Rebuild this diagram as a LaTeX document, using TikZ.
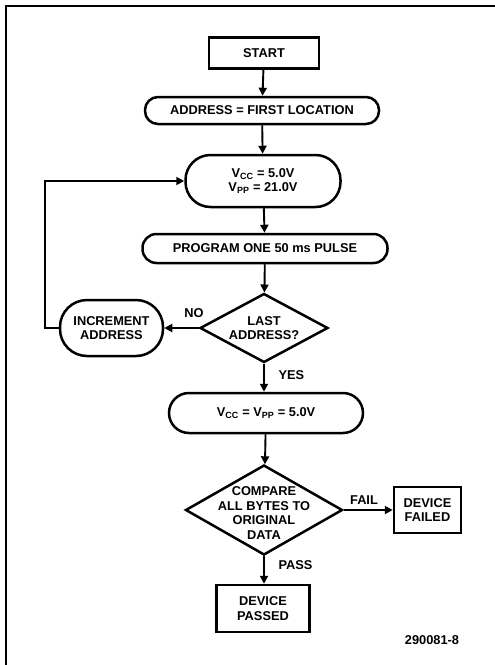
\documentclass[tikz,border=0pt]{standalone}
\usepackage{fontspec}
\setmainfont{Liberation Sans}
\usetikzlibrary{shapes.geometric,arrows.meta}
\tikzset{
    flow/.style={line width=1.9pt,-{Triangle[length=8pt,width=8pt]}},
    box/.style={draw,line width=2.5pt,rectangle,inner sep=0pt,align=center},
    pill/.style={draw,line width=2.5pt,rectangle,rounded corners=#1,inner sep=0pt,align=center},
    decision/.style={draw,line width=2.5pt,diamond,inner sep=0pt},
    txt/.style={align=center},
}
\begin{document}
\begin{tikzpicture}[x=1pt,y=-1pt,font=\bfseries\fontsize{12.8}{14.6}\selectfont]
    \useasboundingbox (0,0) rectangle (495,665);

    % Frame
    \draw[line width=1.5pt] (6,670) -- (6,6) -- (500,6);

    % Main column
    \node[box,minimum width=110pt,minimum height=31pt] (start) at (264,53) {START};
    \node[pill=13pt,minimum width=234pt,minimum height=27pt] (addr) at (262,110.5) {ADDRESS = FIRST LOCATION};
    \node[pill=25pt,minimum width=155pt,minimum height=52pt] (vcc) at (263,181)
        {V\textsubscript{CC} = 5.0V\\V\textsubscript{PP} = 21.0V};
    \node[pill=14pt,minimum width=245pt,minimum height=29pt] (prog) at (265,248.5) {PROGRAM ONE 50 ms PULSE};
    \node[decision,minimum width=128pt,minimum height=69pt] (last) at (264,328) {};
    \node[txt] (lasttxt) at (last.center) {LAST\\ADDRESS?};
    \node[pill=20pt,minimum width=194pt,minimum height=40pt] (vccpp) at (266,413)
        {V\textsubscript{CC} = V\textsubscript{PP} = 5.0V};
    \node[decision,minimum width=157pt,minimum height=90pt] (cmp) at (264,510) {};
    \node[txt,yshift=-3pt] (cmptxt) at (cmp.center) {COMPARE\\ALL BYTES TO\\ORIGINAL\\DATA};
    \node[box,minimum width=93pt,minimum height=47pt] (passed) at (263,608.5) {DEVICE\\PASSED};

    % Side boxes
    \node[pill=27pt,minimum width=103pt,minimum height=56pt] (incr) at (111.5,328) {INCREMENT\\ADDRESS};
    \node[box,minimum width=67pt,minimum height=46pt] (failed) at (427.5,510) {DEVICE\\FAILED};

    % Arrows
    \draw[flow] (start) -- (addr);
    \draw[flow] (addr) -- (vcc);
    \draw[flow] (vcc) -- (prog);
    \draw[flow] (prog) -- (last);
    \draw[flow] (last.west) -- (incr.east);
    \draw[flow] (last.south) -- (last.south |- vccpp.north);
    \draw[flow] (vccpp) -- (cmp);
    \draw[flow] (cmp.east) -- (failed.west);
    \draw[flow] (cmp.south) -- (cmp.south |- passed.north);

    % Loop back
    \coordinate (back) at (45,328);
    \draw[flow] (incr.west) -- (back) |- (vcc.west);

    % Labels
    \node (no) at (194,313) {NO};
    \node[anchor=west] (yes) at (275,375) {YES};
    \node (fail) at (364,500) {FAIL};
    \node[anchor=west] (pass) at (275,565) {PASS};
    \node (ref) at (432,640) {290081-8};
\end{tikzpicture}
\end{document}
